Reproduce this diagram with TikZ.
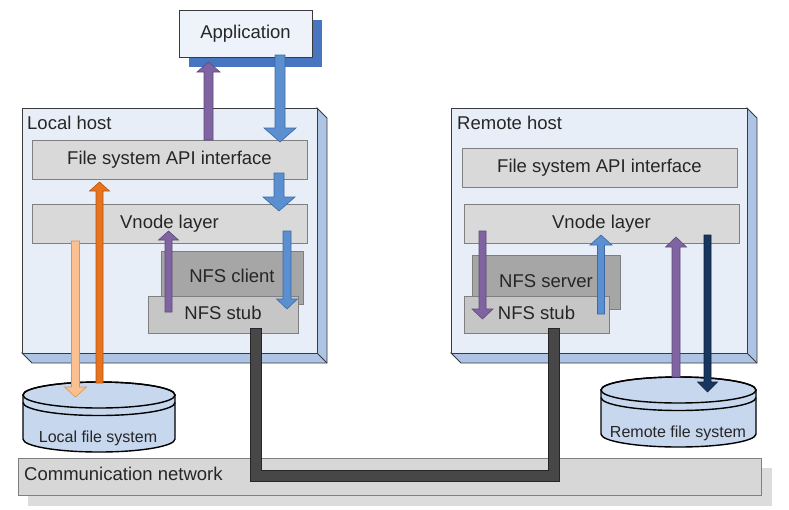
\documentclass[tikz,border=0pt]{standalone}
\usepackage{fontspec}
\setmainfont{Liberation Sans}
\definecolor{hostfill}{HTML}{E8EEF8}
\definecolor{hostside}{HTML}{ADC4E4}
\definecolor{edge}{HTML}{3A3A3A}
\definecolor{layer}{HTML}{D9D9D9}
\definecolor{layeredge}{HTML}{7F7F7F}
\definecolor{nfsdark}{HTML}{A6A6A6}
\definecolor{stub}{HTML}{C6C6C6}
\definecolor{appfill}{HTML}{EEF3FB}
\definecolor{appshadow}{HTML}{4775C0}
\definecolor{cyl}{HTML}{C6D7EE}
\definecolor{purp}{HTML}{8064A2}
\definecolor{purpd}{HTML}{5E4A7A}
\definecolor{blu}{HTML}{5B8FD0}
\definecolor{blud}{HTML}{3D69A6}
\definecolor{oran}{HTML}{E8731E}
\definecolor{orand}{HTML}{B4560E}
\definecolor{peach}{HTML}{FAC090}
\definecolor{peachd}{HTML}{D8955A}
\definecolor{navy}{HTML}{17375E}
\definecolor{navyd}{HTML}{0C2038}
\definecolor{wire}{HTML}{474747}
\definecolor{wired}{HTML}{262626}
\definecolor{txt}{HTML}{262626}
\definecolor{netshadow}{HTML}{DCDCDC}
\definecolor{netfill}{HTML}{D7D7D7}
\newcommand\vblock[8]{%
  \pgfmathsetmacro\vbhb{#3-sign(#3-#2)*#6}%
  \filldraw[fill=#7,draw=#8,line width=0.6pt,line join=miter]
   ({#1-#4},#2) -- ({#1-#4},\vbhb) -- ({#1-#5},\vbhb) -- (#1,#3) -- ({#1+#5},\vbhb) -- ({#1+#4},\vbhb) -- ({#1+#4},#2) -- cycle;}
\begin{document}
\begin{tikzpicture}[x=1pt,y=-1pt,
  every node/.style={font=\fontsize{18.5}{21}\selectfont, text=txt, inner sep=0pt},
  boxtext/.style={text height=1.08em, text depth=0pt},
  layerbox/.style={draw=layeredge, fill=layer, line width=0.8pt, boxtext},
  clientbox/.style={draw=layeredge, fill=nfsdark, line width=0.8pt, boxtext},
  stubbox/.style={draw=layeredge, fill=stub, line width=0.8pt, boxtext},
  hostbox/.style={draw=edge, fill=hostfill, line width=0.9pt},
  sidebox/.style={draw=edge, fill=hostside, line width=0.9pt, line join=miter},
  cylbody/.style={draw=black, fill=cyl, line width=1.4pt},
  cyltext/.style={font=\fontsize{16}{18}\selectfont}]
\useasboundingbox (0,0) rectangle (789,509);

% Communication network
\fill[netshadow] (28,468) rectangle (772,506);
\node[draw=layeredge, fill=netfill, line width=0.8pt, minimum width=743, minimum height=37] (net) at (389.5,476.5) {};
\node[anchor=west, boxtext] (netlabel) at (24,475) {Communication network};

% Local host
\filldraw[sidebox] (317,108) -- (327,118) -- (327,363) -- (32,363) -- (22,353) -- (317,353) -- cycle;
\draw[edge, line width=0.9pt] (317,353) -- (327,363);
\node[hostbox, minimum width=295, minimum height=245] (lhost) at (169.5,230.5) {};
\node[anchor=base west] (lhostlabel) at (27,129) {Local host};
\node[layerbox, minimum width=275, minimum height=39] (lapi) at (169.5,159.5) {File system API interface};
\node[layerbox, minimum width=275, minimum height=39] (lvn) at (169.5,223.5) {Vnode layer};
\node[clientbox, minimum width=142, minimum height=53] (lclient) at (232,277.5) {NFS client};
\node[stubbox, minimum width=150, minimum height=37] (lstub) at (223,314.5) {NFS stub};

% Remote host
\filldraw[sidebox] (747,108) -- (757,118) -- (757,363) -- (461,363) -- (451,353) -- (747,353) -- cycle;
\draw[edge, line width=0.9pt] (747,353) -- (757,363);
\node[hostbox, minimum width=296, minimum height=245] (rhost) at (599,230.5) {};
\node[anchor=base west] (rhostlabel) at (457,129) {Remote host};
\node[layerbox, minimum width=275, minimum height=39] (rapi) at (599.5,167.5) {File system API interface};
\node[layerbox, minimum width=275, minimum height=39] (rvn) at (601.5,223.5) {Vnode layer};
\node[clientbox, minimum width=148, minimum height=54] (rserver) at (546,282) {NFS server};
\node[stubbox, minimum width=145, minimum height=37] (rstub) at (536.5,314.5) {NFS stub};

% Application
\fill[appshadow] (189,20) rectangle (322,67);
\node[draw=edge, fill=appfill, line width=0.9pt, minimum width=133, minimum height=47, boxtext] (app) at (245.5,33.5) {Application};

% Local file system cylinder
\filldraw[cylbody] (23,395) -- (23,439) arc[start angle=180, end angle=360, x radius=76pt, y radius=13pt] -- (175,395) arc[start angle=0, end angle=180, x radius=76pt, y radius=13pt] -- cycle;
\draw[black, line width=1.4pt] (99,395) ellipse[x radius=76pt, y radius=13pt];
\draw[black, line width=1.4pt] (23,402.5) arc[start angle=180, end angle=360, x radius=76pt, y radius=13pt];
\node[cyltext] (lfs) at (98,438) {Local file system};

% Remote file system cylinder
\filldraw[cylbody] (601,390) -- (601,434) arc[start angle=180, end angle=360, x radius=77.5pt, y radius=13pt] -- (756,390) arc[start angle=0, end angle=180, x radius=77.5pt, y radius=13pt] -- cycle;
\draw[black, line width=1.4pt] (678.5,390) ellipse[x radius=77.5pt, y radius=13pt];
\draw[black, line width=1.4pt] (601,397.5) arc[start angle=180, end angle=360, x radius=77.5pt, y radius=13pt];
\node[cyltext] (rfs) at (678,433) {Remote file system};

% Network wire between the stubs
\draw[wired, line width=12pt, line join=miter] (256,328) -- (256,476) -- (554,476) -- (554,328);
\draw[wire, line width=10pt, line join=miter] (256,328.5) -- (256,476) -- (554,476) -- (554,328.5);

% Arrows (x, tail y, tip y, shaft half width, head half width, head length, fill, outline)
\vblock{208.5}{140}{62}{4.5}{11.5}{10}{purp}{purpd}
\vblock{280}{55}{142}{5}{16}{14}{blu}{blud}
\vblock{279}{173}{211}{5}{16}{14}{blu}{blud}
\vblock{168.5}{312}{231}{3.5}{10}{9}{purp}{purpd}
\vblock{287}{231}{309}{4}{10.5}{10}{blu}{blud}
\vblock{99.5}{383}{182}{3.5}{10}{9}{oran}{orand}
\vblock{75.5}{241}{397}{4}{11}{10}{peach}{peachd}
\vblock{482.5}{231}{319}{3.5}{10.5}{10}{purp}{purpd}
\vblock{601}{314}{235}{3.5}{11}{10}{blu}{blud}
\vblock{676}{377}{237}{4}{10.5}{10}{purp}{purpd}
\vblock{707.5}{235}{392}{3.5}{10}{10}{navy}{navyd}
\end{tikzpicture}
\end{document}
